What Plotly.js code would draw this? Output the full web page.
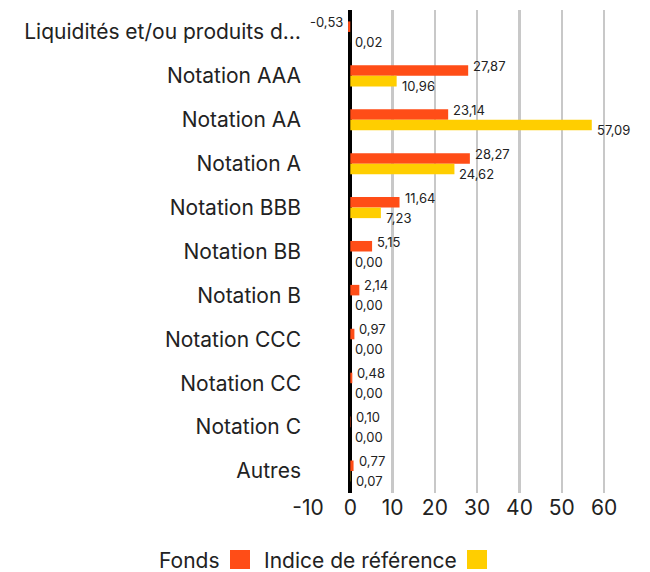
<!DOCTYPE html>
<html><head><meta charset="utf-8">
<script src="https://cdn.plot.ly/plotly-3.0.1.min.js"></script>
<style>body{margin:0;background:#fff}#chart{width:650px;height:572px}</style>
</head><body><div id="chart"></div>
<script>
const categories = ["Liquidités et/ou produits d…","Notation AAA","Notation AA","Notation A","Notation BBB","Notation BB","Notation B","Notation CCC","Notation CC","Notation C","Autres"];
const fonds = [-0.53,27.87,23.14,28.27,11.64,5.15,2.14,0.97,0.48,0.10,0.77];
const indice = [0.02,10.96,57.09,24.62,7.23,0.00,0.00,0.00,0.00,0.00,0.07];
const seriesNames = ["Fonds","Indice de référence"];
const colors = ["#FF4D17","#FFCE00"];
const FONT = "Inter, 'Noto Sans', sans-serif";
const fmt = v => v.toFixed(2).replace('.', ',');

const anns = [];
categories.forEach((c,i)=>{
  const f = fonds[i];
  anns.push({x:f, y:c, xref:'x', yref:'y', text:fmt(f), showarrow:false,
    xanchor: f<0?'right':'left', xshift: f<0?-3:3, yshift:10,
    font:{family:FONT,size:13,color:'#222'}});
  const r = indice[i];
  anns.push({x:r, y:c, xref:'x', yref:'y', text:fmt(r), showarrow:false,
    xanchor:'left', xshift:3, yshift:-10,
    font:{family:FONT,size:13,color:'#222'}});
});
// custom legend (text then square)
const L=308, W=313, B=493, H=483;
const px = p => (p-L)/W, py = p => (B-p)/H;
anns.push({xref:'paper',yref:'paper',x:px(222),y:py(560),xanchor:'right',yanchor:'middle',text:seriesNames[0],showarrow:false,font:{family:FONT,size:21,color:'#222'}});
anns.push({xref:'paper',yref:'paper',x:px(459),y:py(560),xanchor:'right',yanchor:'middle',text:seriesNames[1],showarrow:false,font:{family:FONT,size:21,color:'#222'}});
const shapes = [
  {type:'rect',xref:'paper',yref:'paper',x0:px(230),x1:px(250),y0:py(569),y1:py(550),fillcolor:colors[0],line:{width:0}},
  {type:'rect',xref:'paper',yref:'paper',x0:px(467),x1:px(487),y0:py(569),y1:py(550),fillcolor:colors[1],line:{width:0}}
];

const data = [
  {type:'bar',orientation:'h',name:seriesNames[0],x:fonds,y:categories,marker:{color:colors[0]},hoverinfo:'x+y'},
  {type:'bar',orientation:'h',name:seriesNames[1],x:indice,y:categories,marker:{color:colors[1]},hoverinfo:'x+y'}
];
const layout = {
  width:650, height:572,
  margin:{l:L, r:650-L-W, t:B-H, b:572-B},
  paper_bgcolor:'#fff', plot_bgcolor:'#fff',
  barmode:'group', bargap:0.52, bargroupgap:0,
  showlegend:false,
  font:{family:FONT,color:'#222'},
  xaxis:{range:[-10,64], tickvals:[-10,0,10,20,30,40,50,60], ticktext:['-10','0','10','20','30','40','50','60'],
    showgrid:true, gridcolor:'#c8c8c8', gridwidth:2.5, zeroline:true, zerolinecolor:'#000', zerolinewidth:4,
    tickfont:{family:FONT,size:21,color:'#222'}, showline:false, fixedrange:true},
  yaxis:{autorange:'reversed', tickfont:{family:FONT,size:21,color:'#222'}, showgrid:false, zeroline:false,
    ticks:'', ticklabelstandoff:6, automargin:false, fixedrange:true},
  annotations:anns, shapes:shapes
};
Plotly.newPlot('chart', data, layout, {displayModeBar:false, staticPlot:true});
</script></body></html>
